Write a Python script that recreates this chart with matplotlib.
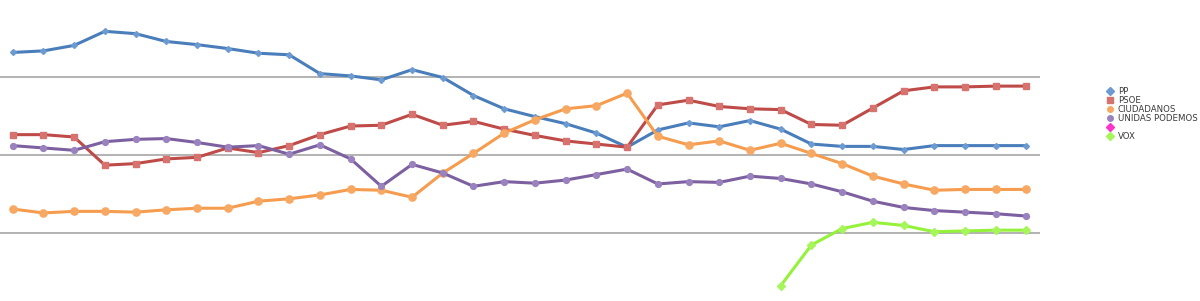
import numpy as np
import matplotlib
matplotlib.use("Agg")
import matplotlib.pyplot as plt

# poll estimates (%), one point per survey
pp = [33.1, 33.3, 34.0, 35.8, 35.5, 34.5, 34.1, 33.6, 33.0, 32.8, 30.4, 30.1,
      29.6, 30.9, 29.9, 27.6, 25.9, 24.9, 24.0, 22.8, 21.0, 23.2, 24.1, 23.6,
      24.4, 23.3, 21.4, 21.1, 21.1, 20.7, 21.2, 21.2, 21.2, 21.2]
psoe = [22.6, 22.6, 22.3, 18.7, 18.9, 19.5, 19.7, 20.9, 20.3, 21.2, 22.6, 23.7,
        23.8, 25.2, 23.8, 24.3, 23.3, 22.5, 21.8, 21.4, 21.0, 26.4, 27.0, 26.2,
        25.9, 25.8, 23.9, 23.8, 26.0, 28.2, 28.7, 28.7, 28.8, 28.8]
cs = [13.1, 12.6, 12.8, 12.8, 12.7, 13.0, 13.2, 13.2, 14.1, 14.4, 14.9, 15.6,
      15.5, 14.6, 17.7, 20.2, 22.8, 24.5, 25.9, 26.3, 27.9, 22.4, 21.3, 21.8,
      20.6, 21.5, 20.2, 18.9, 17.3, 16.3, 15.5, 15.6, 15.6, 15.6]
up = [21.2, 20.9, 20.6, 21.7, 22.0, 22.1, 21.6, 21.0, 21.2, 20.1, 21.3, 19.5,
      16.0, 18.8, 17.7, 16.0, 16.6, 16.4, 16.8, 17.5, 18.2, 16.3, 16.6, 16.5,
      17.3, 17.0, 16.3, 15.3, 14.1, 13.3, 12.9, 12.7, 12.5, 12.2]
vox = [np.nan] * 25 + [3.3, 8.5, 10.6, 11.4, 11.0, 10.2, 10.3, 10.4, 10.4]

labels = ["PP", "PSOE", "CIUDADANOS", "UNIDAS PODEMOS", " ", "VOX"]

x = np.arange(len(pp))

fig = plt.figure(figsize=(12, 3.01), dpi=100)
ax = fig.add_axes([0, 0, 1040 / 1200, 1])

# line colour, marker, marker size, marker face
styles = [
    ("#4A7EBB", "D", 3, "#6E9AD2"),
    ("#BE4B48", "s", 4.3, "#D6736F"),
    ("#F59C4E", "o", 5.2, "#F7A862"),
    ("#7D60A0", "o", 4.2, "#9A82BE"),
    ("#FF33CC", "D", 4, "#FF33CC"),
    ("#95F23A", "D", 4, "#A6F55A"),
]
series = [pp, psoe, cs, up, [np.nan] * len(pp), vox]

for vals, lab, (col, mk, ms, mf) in zip(series, labels, styles):
    ax.plot(x, vals, color=col, lw=2.2, marker=mk, ms=ms, mfc=mf, mec=mf,
            label=lab, clip_on=False, zorder=3)

# map index 0 to pixel 12.7, spacing 30.72 px
ax.set_xlim(-12.7 / 30.72, (1040 - 12.7) / 30.72)
ax.set_ylim(1.35, 39.8)
ax.set_yticks([10, 20, 30])
ax.grid(axis="y", color="#A6A6A6", lw=1.2)
ax.set_axisbelow(True)
ax.tick_params(left=False, bottom=False, labelleft=False, labelbottom=False)
ax.set_xticks([])
for s in ax.spines.values():
    s.set_visible(False)

leg = fig.legend(loc="upper left", bbox_to_anchor=(1102 / 1200, 1 - 83 / 301),
                 frameon=False, fontsize=6.2, handlelength=0.9,
                 handletextpad=0.45, labelspacing=0.0, borderpad=0)
for h in leg.legend_handles:
    h.set_linestyle("none")
    h.set_markersize(4)
for t in leg.get_texts():
    t.set_color("#3A3A3A")

fig.savefig("out.png", dpi=100)
